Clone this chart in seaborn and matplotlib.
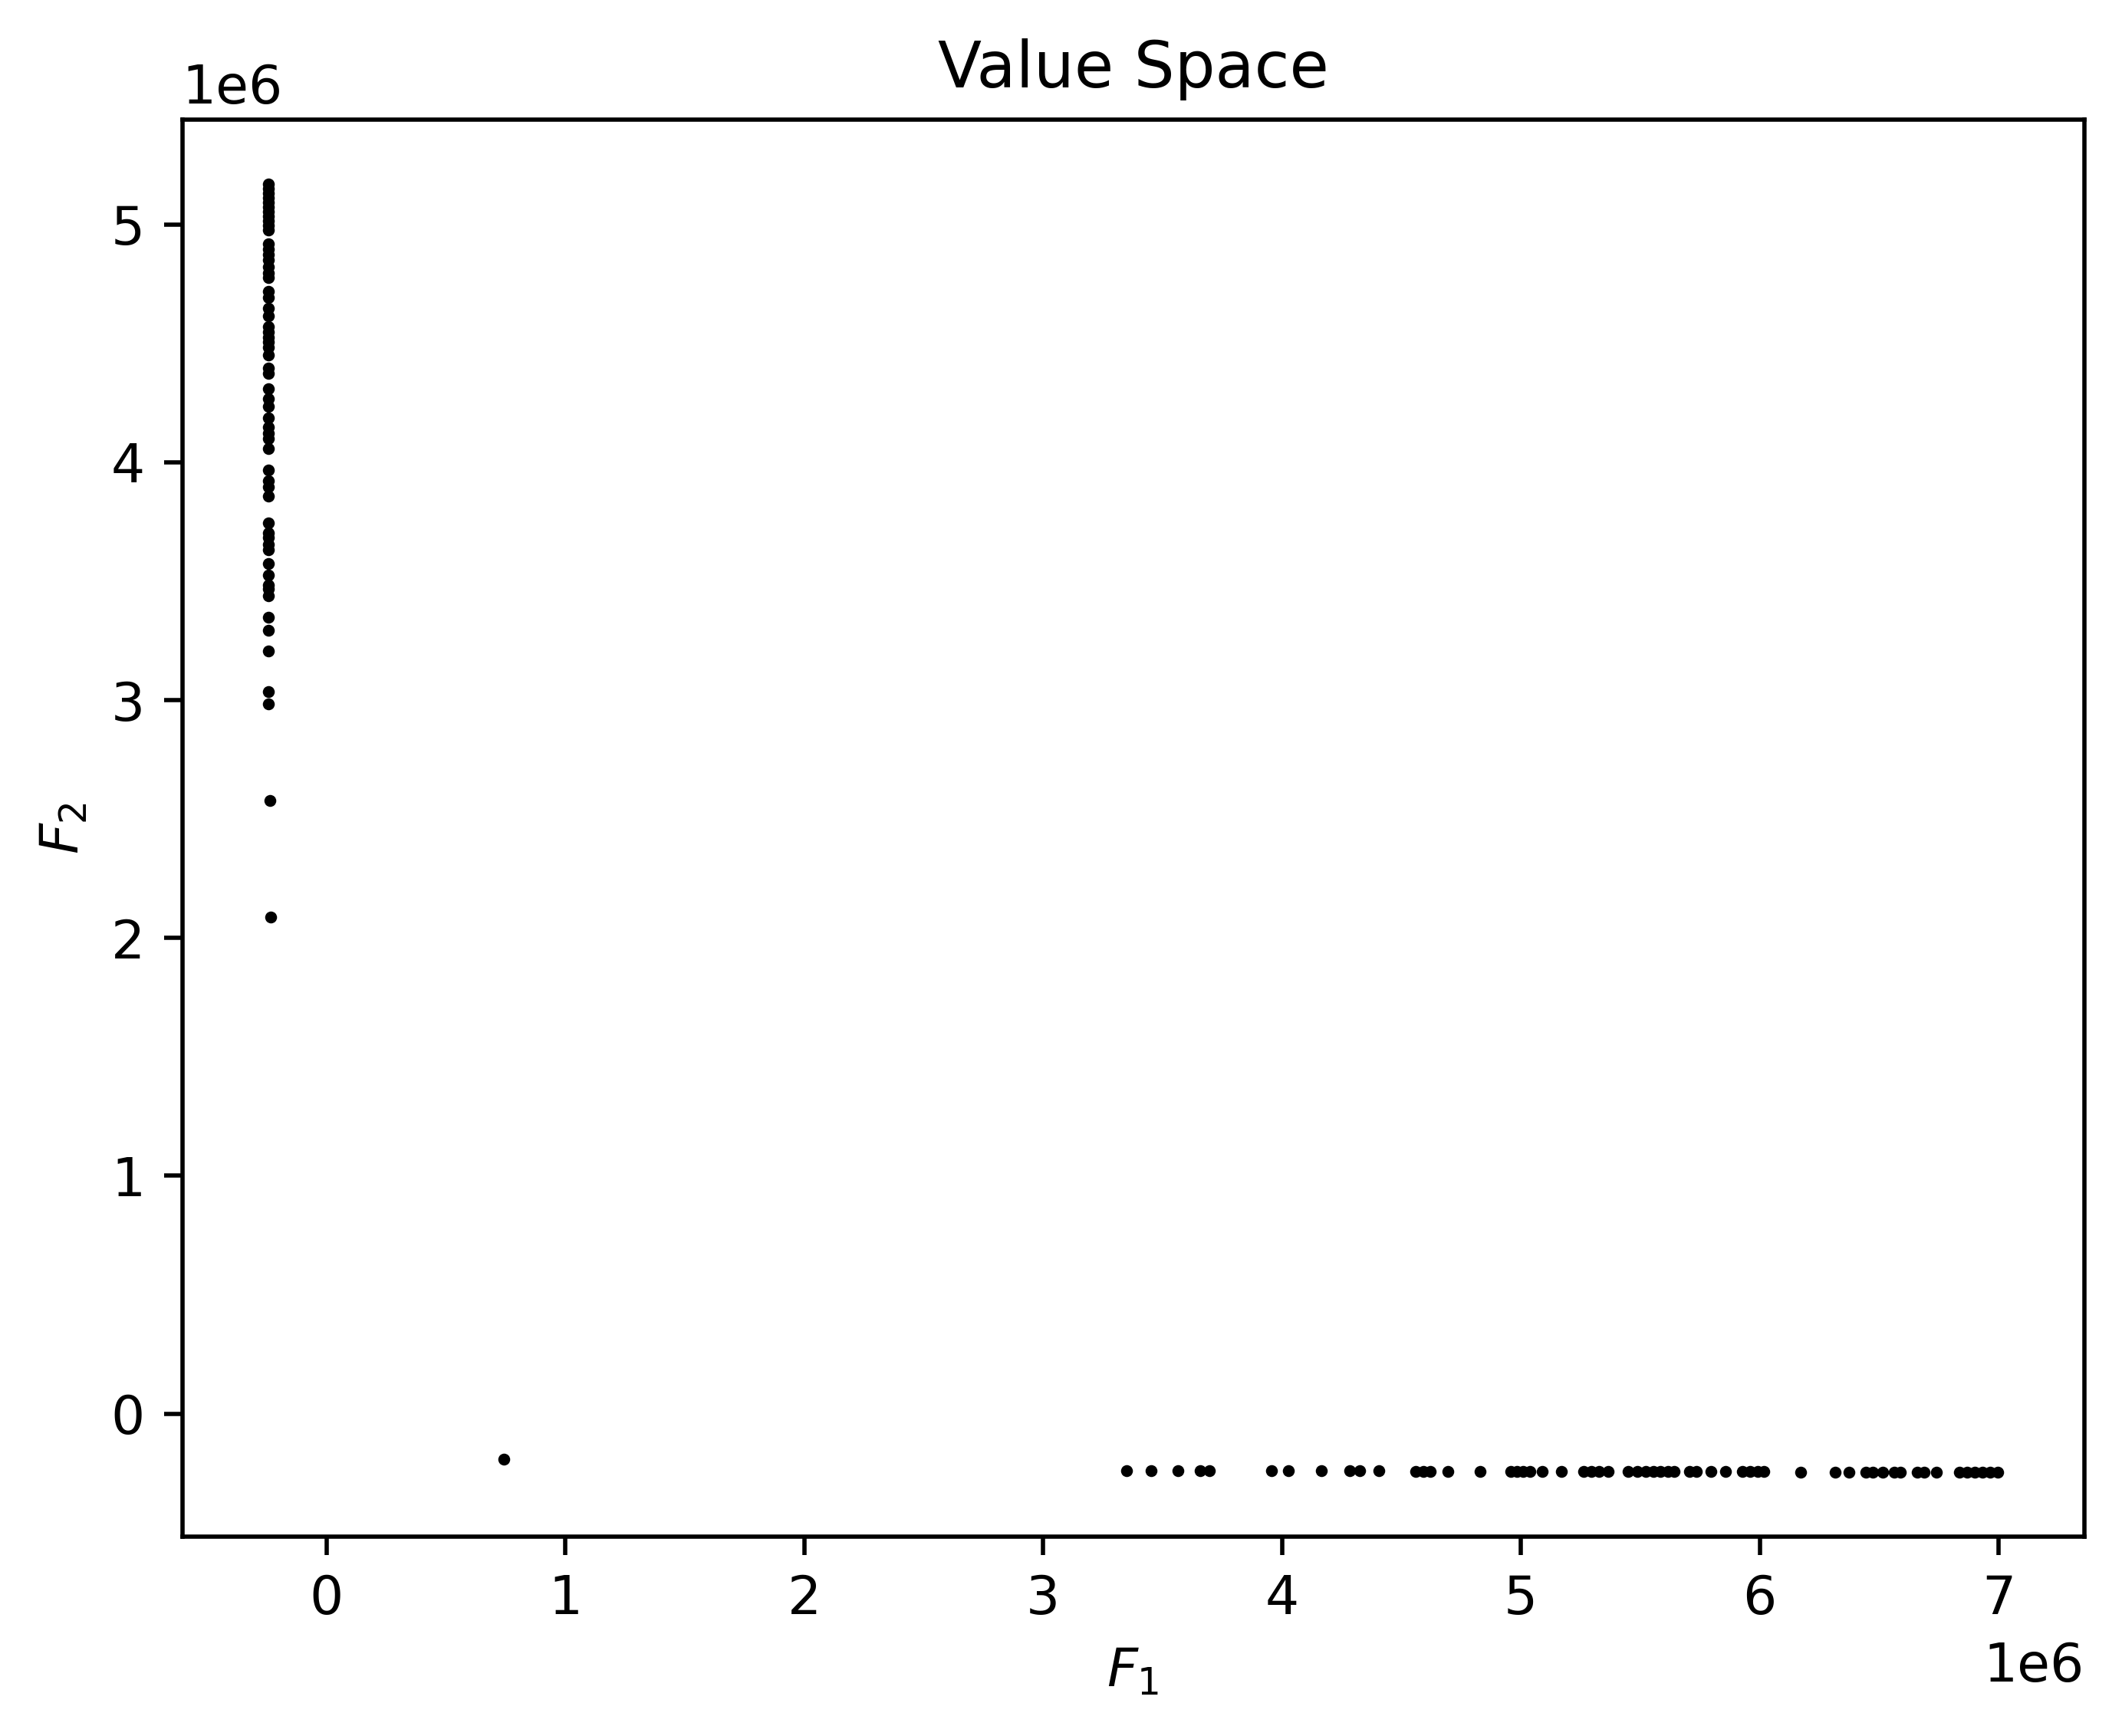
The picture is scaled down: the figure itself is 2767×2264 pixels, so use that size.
import numpy as np
import pandas as pd
import matplotlib.pyplot as plt
import seaborn as sns

# Left branch of the front (F1 nearly constant), values in 1e6
f2_left = [5.171, 5.152, 5.132, 5.113, 5.093, 5.074, 5.055, 5.035, 5.016, 4.997,
           4.977, 4.919, 4.897, 4.874, 4.849, 4.823, 4.797, 4.775, 4.720, 4.694,
           4.649, 4.614, 4.569, 4.549, 4.526, 4.507, 4.484, 4.452, 4.397, 4.375,
           4.310, 4.268, 4.236, 4.188, 4.149, 4.123, 4.101, 4.059, 3.968, 3.923,
           3.897, 3.859, 3.746, 3.704, 3.682, 3.656, 3.633, 3.575, 3.527, 3.485,
           3.469, 3.440, 3.349, 3.295, 3.208, 3.037, 2.985, 2.579, 2.089]
f1_left = [-0.242] * 57 + [-0.238, -0.232]

# Lone point in between
f1_mid = [0.743]
f2_mid = [-0.193]

# Bottom branch of the front (F2 nearly constant)
f1_bottom = [3.350, 3.452, 3.565, 3.656, 3.696, 3.956, 4.028, 4.166, 4.282, 4.325,
             4.407, 4.561, 4.593, 4.619, 4.694, 4.828, 4.957, 4.984, 5.010, 5.037,
             5.088, 5.171, 5.262, 5.294, 5.326, 5.364, 5.449, 5.487, 5.524, 5.556,
             5.583, 5.615, 5.642, 5.706, 5.733, 5.797, 5.856, 5.926, 5.958, 5.990,
             6.017, 6.172, 6.317, 6.375, 6.445, 6.472, 6.515, 6.563, 6.589, 6.659,
             6.687, 6.740, 6.836, 6.868, 6.900, 6.932, 6.964, 6.996]
f2_bottom = [-0.239] * 11 + [-0.242] * 30 + [-0.245] * 17

df = pd.DataFrame({
    'F1': np.array(f1_left + f1_mid + f1_bottom) * 1e6,
    'F2': np.array(f2_left + f2_mid + f2_bottom) * 1e6,
})

fig, ax = plt.subplots(figsize=(6.4, 4.8))
sns.scatterplot(data=df, x='F1', y='F2', color='black', s=5, linewidth=0, ax=ax)
ax.set_xlabel('$F_1$')
ax.set_ylabel('$F_2$')
ax.set_title('Value Space')

plt.savefig('out.png', dpi=500, bbox_inches='tight')
